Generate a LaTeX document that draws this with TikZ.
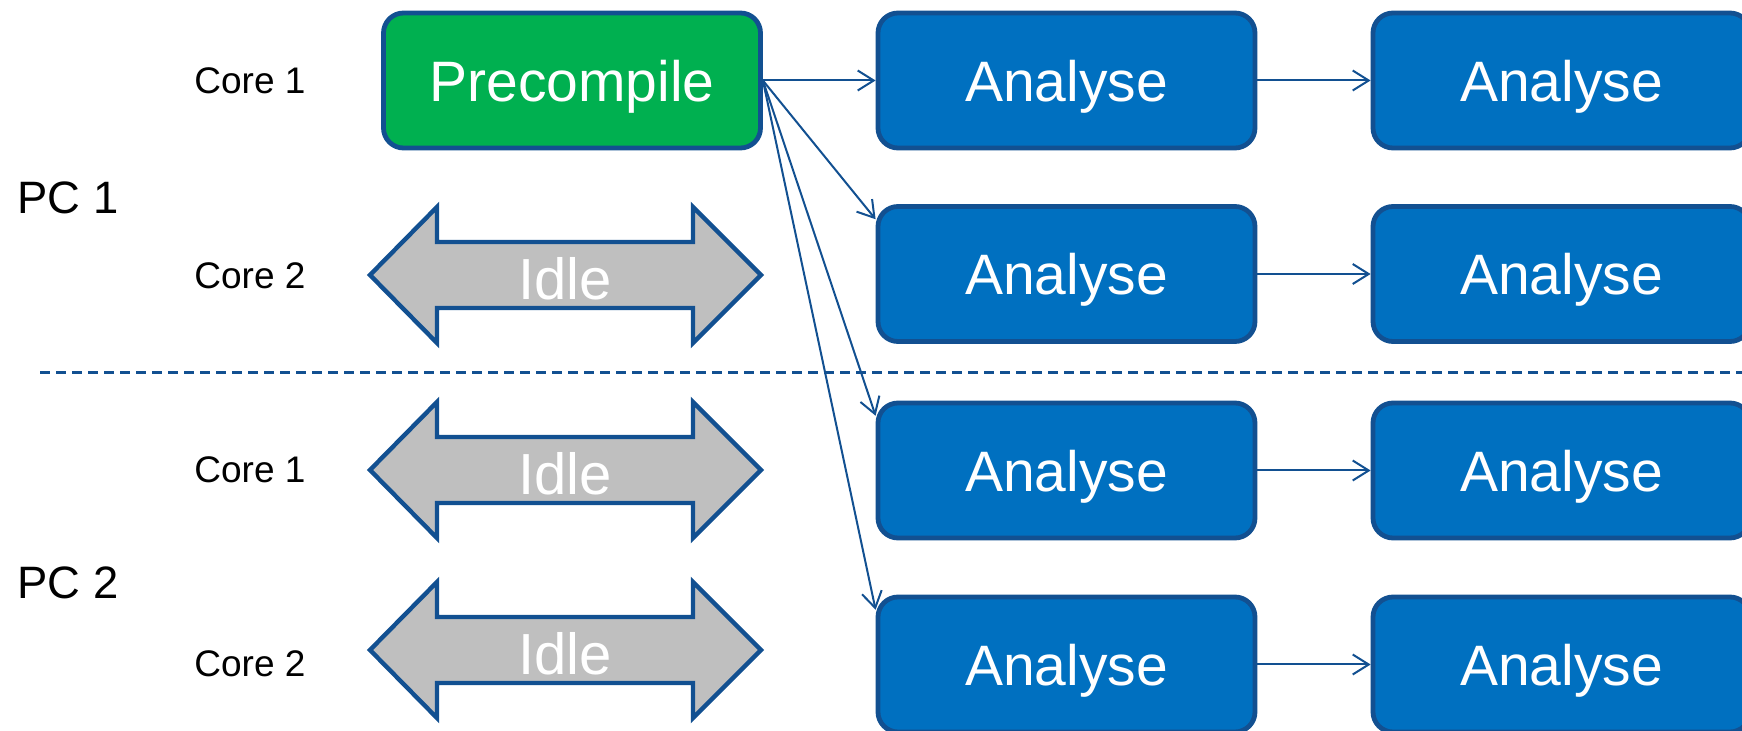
\documentclass[tikz,border=0pt]{standalone}
\usepackage{fontspec}
\setmainfont{Liberation Sans}
\usetikzlibrary{arrows.meta}

\definecolor{edgeblue}{RGB}{18,80,145}
\definecolor{taskblue}{RGB}{0,112,192}
\definecolor{taskgreen}{RGB}{0,176,80}
\definecolor{idlegray}{RGB}{191,191,191}

\tikzset{
  taskbox/.style={draw=edgeblue, line width=2.4pt, rounded corners=10pt,
    minimum width=188.5pt, minimum height=67.5pt, inner sep=0pt,
    text=white, text depth=0pt, font=\fontsize{28.5}{30}\selectfont},
  prebox/.style={taskbox, fill=taskgreen},
  anabox/.style={taskbox, fill=taskblue},
  idleshape/.style={draw=edgeblue, line width=2.2pt, fill=idlegray},
  idletext/.style={text=white, inner sep=0pt, text depth=0pt, font=\fontsize{29}{30}\selectfont},
  corelabel/.style={anchor=west, inner sep=0pt, font=\fontsize{18.5}{20}\selectfont},
  pclabel/.style={anchor=west, inner sep=0pt, font=\fontsize{22.7}{24}\selectfont},
  flow/.style={draw=edgeblue, line width=1pt, -{Straight Barb[length=8pt,width=10pt]}}
}

\begin{document}
\begin{tikzpicture}[x=0.5pt, y=-0.5pt]
  \useasboundingbox (0,0) rectangle (1742,731);
  \clip (0,0) rectangle (1742,731);
  \fill[white] (0,0) rectangle (1742,731);

  \draw[edgeblue, line width=1.5pt, dash pattern=on 5pt off 3pt] (40,373) -- (1742,373);

  \node[pclabel] (pc1) at (17,198) {PC 1};
  \node[pclabel] (pc2) at (17,583) {PC 2};
  \node[corelabel] (c11) at (194,81) {Core 1};
  \node[corelabel] (c12) at (194,276) {Core 2};
  \node[corelabel] (c21) at (194,470) {Core 1};
  \node[corelabel] (c22) at (194,664) {Core 2};

  \foreach \y in {275,470,650} {
    \draw[idleshape] (370,\y) -- (437,\y-68) -- (437,\y-33) -- (693,\y-33) -- (693,\y-68)
      -- (761,\y) -- (693,\y+68) -- (693,\y+33) -- (437,\y+33) -- (437,\y+68) -- cycle;
    \node[idletext] (idle\y) at (565,\y+3) {Idle};
  }

  \node[prebox] (pre) at (572,80.5) {Precompile};

  \node[anabox] (a11) at (1066.5,80.5) {Analyse};
  \node[anabox] (a12) at (1561.5,80.5) {Analyse};
  \node[anabox] (a21) at (1066.5,274) {Analyse};
  \node[anabox] (a22) at (1561.5,274) {Analyse};
  \node[anabox] (a31) at (1066.5,470.5) {Analyse};
  \node[anabox] (a32) at (1561.5,470.5) {Analyse};
  \node[anabox] (a41) at (1066.5,664.5) {Analyse};
  \node[anabox] (a42) at (1561.5,664.5) {Analyse};

  \draw[flow] (pre.east) -- (a11);
  \draw[flow] (pre.east) -- (a21.164);
  \draw[flow] (pre.east) -- (a31.164);
  \draw[flow] (pre.east) -- (a41.164);

  \draw[flow] (a11) -- (a12);
  \draw[flow] (a21) -- (a22);
  \draw[flow] (a31) -- (a32);
  \draw[flow] (a41) -- (a42);
\end{tikzpicture}
\end{document}
